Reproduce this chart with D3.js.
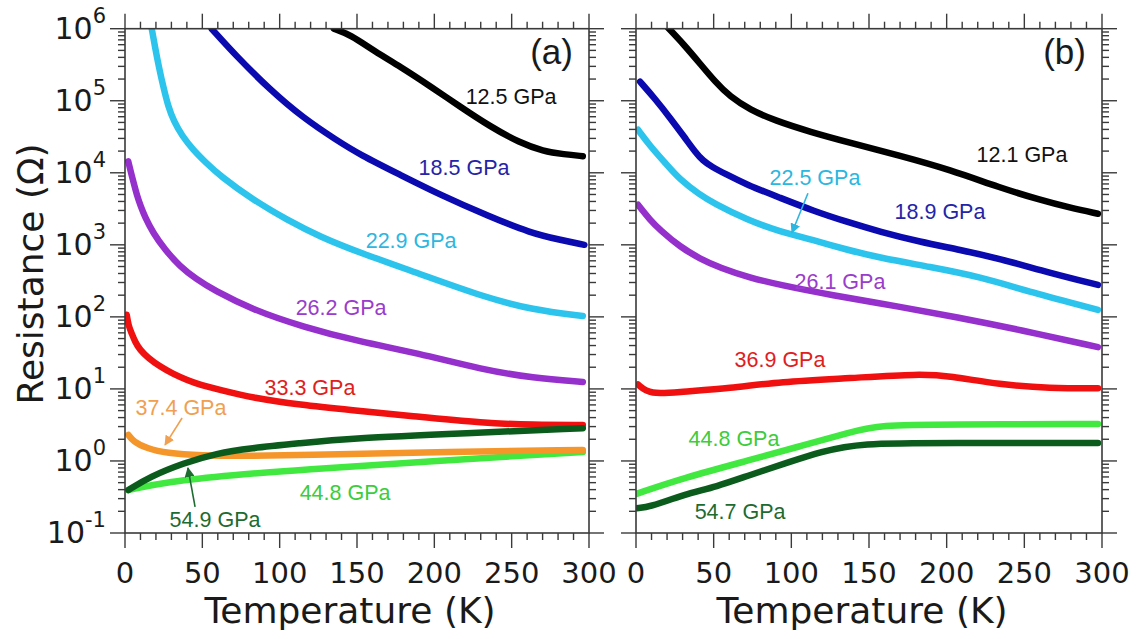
<!DOCTYPE html>
<html>
<head>
<meta charset="utf-8">
<script src="https://cdn.jsdelivr.net/npm/d3@7"></script>
<style>
  body { margin: 0; background: #fff; }
</style>
</head>
<body>
<div id="chart"></div>
<script>
// tick labels
var xTicks = [0, 50, 100, 150, 200, 250, 300]
var yDecades = [-1, 0, 1, 2, 3, 4, 5, 6]

// panel (a): [temperature K, resistance ohm]
var a_12_5 = [[135,1e6],[145.5,8.3e5],[161.7,4.8e5],[177.8,3.0e5],[197.2,1.6e5],[216.6,8.3e4],[236,4.4e4],[255.4,2.6e4],[270.3,2.0e4],[284,1.8e4],[296,1.7e4]]
var a_18_5 = [[56,1e6],[72.2,4.12e5],[93.8,1.42e5],[115.1,5.8e4],[136.4,2.87e4],[152,1.78e4],[177.8,9.4e3],[203.7,4.95e3],[236,2.45e3],[261.9,1.47e3],[281.3,1.17e3],[297,1.0e3]]
var a_22_9 = [[17.3,1e6],[19.4,5.6e5],[22,2.87e5],[24.9,1.52e5],[27.8,8.5e4],[31.7,5.1e4],[36.9,3.27e4],[44,2.09e4],[52.4,1.38e4],[61.4,9.1e3],[82.8,4.2e3],[104.8,2.22e3],[126.2,1.29e3],[152,775],[188.8,408],[231.5,190],[263.8,125],[296,103]]
var a_26_2 = [[2.1,1.44e4],[3.9,1.0e4],[5.8,7.0e3],[7.8,4.8e3],[10.3,3.37e3],[12.9,2.45e3],[18.1,1.47e3],[25.9,853],[35.6,500],[45.9,337],[57.1,237],[82.8,125],[115.1,72.6],[152,45],[188.8,31.6],[231.5,18.4],[263.8,14.2],[296,12.5]]
var a_33_3 = [[1.1,107],[2.3,75],[4.3,59.4],[6.5,45],[9.7,34.8],[14.9,27],[22.6,20.4],[31,16.2],[39.9,13.3],[48.5,11.4],[61.4,9.7],[82.8,7.5],[113.2,6.0],[145.5,5.1],[188.8,4.12],[231.5,3.37],[263.8,3.16],[296,3.16]]
var a_37_4 = [[2.2,2.3],[5.4,1.86],[14,1.5],[27,1.28],[48.5,1.19],[80.8,1.17],[113,1.21],[200,1.33],[296,1.42]]
var a_44_8 = [[2.2,0.395],[27,0.515],[70,0.64],[113,0.75],[200,1.0],[296,1.33]]
var a_54_9 = [[2.2,0.395],[16.2,0.605],[37.7,0.93],[59.3,1.28],[80.8,1.5],[113,1.76],[145.5,2.07],[221,2.43],[296,2.85]]

// panel (b)
var b_12_1 = [[20.6,1.03e6],[30.9,6.0e5],[41.2,3.27e5],[50.9,1.84e5],[60.5,1.14e5],[73.4,7.5e4],[89.5,5.3e4],[112,3.7e4],[137.8,2.61e4],[170,1.72e4],[202.2,1.1e4],[234.3,6.2e3],[260.1,4.2e3],[279.4,3.27e3],[297.4,2.7e3]]
var b_18_9 = [[2.6,1.84e5],[12.2,1.07e5],[21.9,5.8e4],[31.5,3.06e4],[38,1.96e4],[43.1,1.47e4],[48.9,1.21e4],[57.3,9.7e3],[71.5,6.8e3],[92.7,4.5e3],[114,2.97e3],[135.8,2.08e3],[157.1,1.52e3],[182.8,1.1e3],[208.6,853],[234.3,640],[266.5,408],[297.4,278]]
var b_22_5 = [[1.3,3.95e4],[9,2.37e4],[18.7,1.38e4],[28.3,8.0e3],[41.2,4.95e3],[49.6,3.83e3],[71.5,2.22e3],[92.7,1.52e3],[114,1.17e3],[135.8,853],[157.1,659],[189.3,494],[221.5,360],[253.7,222],[297.4,125]]
var b_26_1 = [[1.3,3.6e3],[9,2.22e3],[15.5,1.61e3],[28.3,938],[41.2,640],[54.1,480],[73.4,348],[92.7,278],[124.9,202],[170,138],[208.6,97],[247.2,66],[297.4,38]]
var b_36_9 = [[1.3,11.5],[9,8.3],[28.3,9.1],[60.5,10.2],[92.7,12.6],[137.8,14.1],[182.8,16.2],[202,15.1],[234,11.5],[266.5,10.2],[297.4,10.2]]
var b_44_8 = [[0.4,0.35],[30.5,0.58],[73.4,1.03],[105.6,1.6],[137.8,2.5],[157,3.16],[200,3.2],[297.4,3.27]]
var b_54_7 = [[0.4,0.22],[9,0.23],[30.5,0.34],[52,0.44],[73.4,0.64],[99,0.97],[118.5,1.33],[144,1.78],[200,1.78],[297.4,1.78]]

var W = 1137, H = 639
var top_y = 28.7, bot_y = 533

var svg = d3.select('#chart').append('svg')
    .attr('width', W)
    .attr('height', H)
    .style('font-family', 'DejaVu Sans, Verdana, sans-serif')

var y = d3.scaleLog().domain([0.1, 1e6]).range([bot_y, top_y])

var panels = [
    { id: 'a', x0: 125, x1: 589, tag: '(a)',
      series: [
        { data: a_12_5, color: '#000000' },
        { data: a_18_5, color: '#0a0ab0' },
        { data: a_22_9, color: '#2cc4ec' },
        { data: a_26_2, color: '#9530cc' },
        { data: a_33_3, color: '#f01010' },
        { data: a_44_8, color: '#40e840' },
        { data: a_37_4, color: '#f5962a' },
        { data: a_54_9, color: '#0b5c1c' }
      ],
      labels: [
        { text: '12.5 GPa', t: 249.6, r: 9.1e4, color: '#111111' },
        { text: '18.5 GPa', t: 219.2, r: 9.4e3, color: '#2424a8' },
        { text: '22.9 GPa', t: 185, r: 910, color: '#2cb6e0' },
        { text: '26.2 GPa', t: 139.7, r: 107, color: '#9a3ccc' },
        { text: '33.3 GPa', t: 119.6, r: 8.3, color: '#e02020' },
        { text: '37.4 GPa', t: 36.2, r: 4.35, color: '#f0a050' },
        { text: '44.8 GPa', t: 142.3, r: 0.287, color: '#3ccc3c' },
        { text: '54.9 GPa', t: 58.2, r: 0.121, color: '#1e6b30' }
      ],
      arrows: [
        { t1: 36.9, r1: 3.95, t2: 25.9, r2: 1.67, color: '#f0a050' },
        { t1: 45.3, r1: 0.23, t2: 40.7, r2: 0.8, color: '#1e6b30' }
      ],
      yLabels: true },
    { id: 'b', x0: 636, x1: 1102, tag: '(b)',
      series: [
        { data: b_12_1, color: '#000000' },
        { data: b_18_9, color: '#0a0ab0' },
        { data: b_22_5, color: '#2cc4ec' },
        { data: b_26_1, color: '#9530cc' },
        { data: b_36_9, color: '#f01010' },
        { data: b_44_8, color: '#40e840' },
        { data: b_54_7, color: '#0b5c1c' }
      ],
      labels: [
        { text: '12.1 GPa', t: 248.5, r: 1.42e4, color: '#111111' },
        { text: '22.5 GPa', t: 115.2, r: 6.8e3, color: '#2cb6e0' },
        { text: '18.9 GPa', t: 195.7, r: 2.3e3, color: '#2424a8' },
        { text: '26.1 GPa', t: 131.3, r: 245, color: '#9a3ccc' },
        { text: '36.9 GPa', t: 92.7, r: 20.2, color: '#e02020' },
        { text: '44.8 GPa', t: 63.1, r: 1.6, color: '#3ccc3c' },
        { text: '54.7 GPa', t: 67, r: 0.156, color: '#1e6b30' }
      ],
      arrows: [
        { t1: 110.7, r1: 5.2e3, t2: 100.4, r2: 1.47e3, color: '#2cb6e0' }
      ],
      yLabels: false }
]

var defs = svg.append('defs')
var axisColor = '#3a3a3a'

panels.forEach(function(p) {
    var x = d3.scaleLinear().domain([0, 300]).range([p.x0, p.x1])
    var g = svg.append('g').attr('id', 'panel_' + p.id)

    defs.append('clipPath').attr('id', 'clip_' + p.id)
        .append('rect')
        .attr('x', p.x0)
        .attr('y', top_y)
        .attr('width', p.x1 - p.x0)
        .attr('height', bot_y - top_y)

    // curves (b-spline through the read points)
    var line = d3.line()
        .x(function(d) { return x(d[0]) })
        .y(function(d) { return y(d[1]) })
        .curve(d3.curveBasis)
    var curves = g.append('g').attr('clip-path', 'url(#clip_' + p.id + ')')
    p.series.forEach(function(s) {
        curves.append('path')
            .attr('d', line(s.data))
            .attr('fill', 'none')
            .attr('stroke', s.color)
            .attr('stroke-width', 6.5)
            .attr('stroke-linecap', 'round')
            .attr('stroke-linejoin', 'round')
    })

    // box
    g.append('rect')
        .attr('x', p.x0)
        .attr('y', top_y)
        .attr('width', p.x1 - p.x0)
        .attr('height', bot_y - top_y)
        .attr('fill', 'none')
        .attr('stroke', axisColor)
        .attr('stroke-width', 1.6)

    // x ticks, top and bottom, outward
    var xt = g.append('g').attr('stroke', axisColor).attr('stroke-width', 1.4)
    for (var t = 0; t <= 300; t += 10) {
        var len = (t % 50 == 0) ? 15 : 7
        xt.append('line').attr('x1', x(t)).attr('x2', x(t)).attr('y1', bot_y).attr('y2', bot_y + len)
        xt.append('line').attr('x1', x(t)).attr('x2', x(t)).attr('y1', top_y).attr('y2', top_y - len)
    }
    xTicks.forEach(function(t) {
        g.append('text')
            .attr('x', x(t))
            .attr('y', 583)
            .attr('text-anchor', 'middle')
            .attr('font-size', 29)
            .attr('fill', '#1a1a1a')
            .text(t)
    })

    // y ticks, left and right, outward
    var yt = g.append('g').attr('stroke', axisColor).attr('stroke-width', 1.4)
    yDecades.forEach(function(k) {
        var base = Math.pow(10, k)
        yt.append('line').attr('x1', p.x0 - 15).attr('x2', p.x0).attr('y1', y(base)).attr('y2', y(base))
        yt.append('line').attr('x1', p.x1).attr('x2', p.x1 + 15).attr('y1', y(base)).attr('y2', y(base))
        if (k < 6) {
            for (var m = 2; m <= 9; m++) {
                var yy = y(m * base)
                yt.append('line').attr('x1', p.x0 - 7).attr('x2', p.x0).attr('y1', yy).attr('y2', yy)
                yt.append('line').attr('x1', p.x1).attr('x2', p.x1 + 7).attr('y1', yy).attr('y2', yy)
            }
        }
        if (p.yLabels) {
            var lab = g.append('text')
                .attr('x', 106)
                .attr('y', y(base) + 10)
                .attr('text-anchor', 'end')
                .attr('font-size', 30)
                .attr('fill', '#1a1a1a')
            lab.append('tspan').text('10')
            lab.append('tspan').attr('dy', -16).attr('font-size', 21).text(k)
        }
    })

    // panel tag
    g.append('text')
        .attr('x', p.x1 - 16)
        .attr('y', 64)
        .attr('text-anchor', 'end')
        .attr('font-family', 'Liberation Sans, Arial, sans-serif')
        .attr('font-size', 35)
        .attr('fill', '#1a1a1a')
        .text(p.tag)

    // series labels
    p.labels.forEach(function(l) {
        g.append('text')
            .attr('x', x(l.t))
            .attr('y', y(l.r))
            .attr('text-anchor', 'middle')
            .attr('font-family', 'Liberation Sans, Arial, sans-serif')
            .attr('font-size', 21.5)
            .attr('fill', l.color)
            .text(l.text)
    })

    // arrows
    p.arrows.forEach(function(a, i) {
        var mid = 'arrow_' + p.id + i
        defs.append('marker')
            .attr('id', mid)
            .attr('viewBox', '0 0 10 10')
            .attr('refX', 9)
            .attr('refY', 5)
            .attr('markerWidth', 10)
            .attr('markerHeight', 10)
            .attr('markerUnits', 'userSpaceOnUse')
            .attr('orient', 'auto')
            .append('path')
            .attr('d', 'M0,0 L10,5 L0,10 Z')
            .attr('fill', a.color)
        g.append('line')
            .attr('x1', x(a.t1)).attr('y1', y(a.r1))
            .attr('x2', x(a.t2)).attr('y2', y(a.r2))
            .attr('stroke', a.color)
            .attr('stroke-width', 1.6)
            .attr('marker-end', 'url(#' + mid + ')')
    })

    // x title
    g.append('text')
        .attr('x', (p.x0 + p.x1) / 2 - 7)
        .attr('y', 623)
        .attr('text-anchor', 'middle')
        .attr('font-size', 36)
        .attr('fill', '#1a1a1a')
        .text('Temperature (K)')
})

// y title
svg.append('text')
    .attr('transform', 'translate(43,274) rotate(-90)')
    .attr('text-anchor', 'middle')
    .attr('font-size', 36)
    .attr('fill', '#1a1a1a')
    .text('Resistance (Ω)')
</script>
</body>
</html>
